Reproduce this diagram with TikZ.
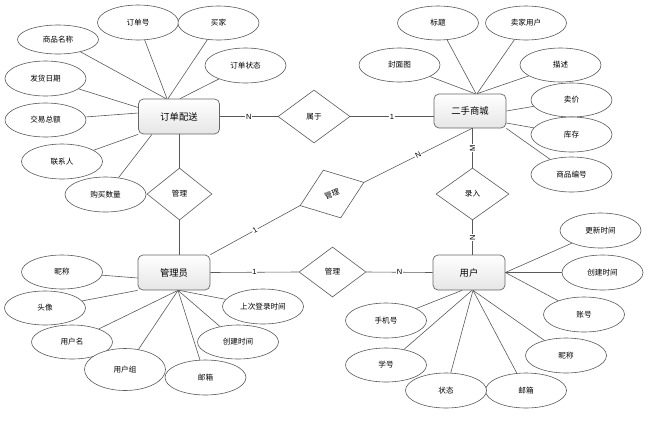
\documentclass[tikz,border=0pt]{standalone}
\usepackage{fontspec}
\newfontfamily\cjk{Noto Sans CJK SC}
\newfontfamily\lat{Liberation Sans}
\usetikzlibrary{shapes.geometric}
\tikzset{
  ent/.style={rectangle, rounded corners=5pt, draw=black!60, line width=0.7pt,
    top color=white, bottom color=black!10, minimum width=72pt, minimum height=35pt,
    inner sep=0pt, font=\cjk\fontsize{9.3}{10}\selectfont},
  attr/.style={ellipse, draw=black!65, line width=0.6pt, fill=white, minimum width=81pt,
    minimum height=35pt, inner sep=0pt, font=\cjk\fontsize{7.6}{8}\selectfont},
  rel/.style={diamond, draw=black!65, line width=0.6pt, fill=white, inner sep=0pt,
    font=\cjk\fontsize{7.6}{8}\selectfont},
  lbl/.style={fill=white, inner sep=0.8pt, font=\lat\fontsize{7.5}{8}\selectfont},
  conn/.style={draw=black!65, line width=0.6pt}
}
\begin{document}
\begin{tikzpicture}[x=1pt,y=-1pt]
\useasboundingbox (0,0) rectangle (653,421);

% entities
\node[ent, minimum width=81pt] (ddps) at (179,116.5) {订单配送};
\node[ent, minimum height=34pt] (esc) at (470,111) {二手商城};
\node[ent] (gly) at (174,272.5) {管理员};
\node[ent] (yh) at (469,272.5) {用户};

% relationships
\node[rel, minimum width=72pt, minimum height=53pt] (sy) at (314,116.5) {属于};
\node[rel, minimum width=65pt, minimum height=52pt] (gla) at (179.5,194) {管理};
\node[rel, minimum width=73pt, minimum height=52pt] (lr) at (472.5,194) {录入};
\node[rel, minimum width=67pt, minimum height=50pt] (glb) at (332.5,272) {管理};
\node[rel, minimum width=68pt, minimum height=51pt, rotate=20] (glc) at (332,194) {管理};

% attributes of 订单配送
\node[attr, minimum height=29pt] (spmc) at (58,39.5) {商品名称};
\node[attr] (ddh) at (138,22.5) {订单号};
\node[attr, minimum height=34pt] (mj) at (218.5,23) {买家};
\node[attr] (ddzt) at (245.5,65.5) {订单状态};
\node[attr] (fhrq) at (45.5,78.5) {发货日期};
\node[attr, minimum height=34pt] (jyze) at (45.5,120) {交易总额};
\node[attr] (lxr) at (62,161.5) {联系人};
\node[attr] (gmsl) at (105.5,194.5) {购买数量};

% attributes of 二手商城
\node[attr, minimum height=34pt] (bt) at (438,23) {标题};
\node[attr, minimum height=34pt] (mjyh) at (526,23) {卖家用户};
\node[attr, minimum height=34pt] (fmt) at (399.5,65) {封面图};
\node[attr, minimum height=34pt] (ms) at (560.5,65) {描述};
\node[attr, minimum height=34pt] (sj) at (571.5,100) {卖价};
\node[attr] (kc) at (571.5,134.5) {库存};
\node[attr] (spbh) at (571.5,174.5) {商品编号};

% attributes of 管理员
\node[attr, minimum height=34pt] (nca) at (62,272) {昵称};
\node[attr, minimum height=34pt] (tx) at (45,308) {头像};
\node[attr, minimum height=34pt] (yhm) at (72,342) {用户名};
\node[attr, minimum height=42pt] (yhz) at (125,369.5) {用户组};
\node[attr] (yxa) at (205.5,377.5) {邮箱};
\node[attr, minimum height=34pt] (cjsja) at (238,342) {创建时间};
\node[attr] (scdl) at (263,306.5) {上次登录时间};

% attributes of 用户
\node[attr] (gxsj) at (600.5,230.5) {更新时间};
\node[attr] (cjsjb) at (602.5,272.5) {创建时间};
\node[attr] (zh) at (584,314.5) {账号};
\node[attr] (ncb) at (566,355.5) {昵称};
\node[attr] (yxb) at (526,390.5) {邮箱};
\node[attr] (zt) at (446,390.5) {状态};
\node[attr, minimum height=34pt] (xh) at (386,365) {学号};
\node[attr] (sjh) at (386,320.5) {手机号};

% relationship connectors
\draw[conn] (ddps.east) -- node[lbl]{N} (sy.west);
\draw[conn] (sy.east) -- node[lbl]{1} (sy.east -| esc.west);
\draw[conn] (gla.north) -- (gla.north |- ddps.south);
\draw[conn] (gla.south) -- (gla.south |- gly.north);
\draw[conn] (lr.north) -- node[lbl, rotate=90]{M} (lr.north |- esc.south);
\draw[conn] (lr.south) -- node[lbl, rotate=90]{N} (lr.south |- yh.north);
\draw[conn] (gly.east) -- node[lbl]{1} (glb.west);
\draw[conn] (glb.east) -- node[lbl]{N} (yh.west);
\draw[conn] (gly.north east) -- node[lbl, sloped]{1} (glc.west);
\draw[conn] (glc.east) -- node[lbl, sloped]{N} ([xshift=2pt]esc.south);

% 订单配送 attributes
\draw[conn] (spmc) -- ([xshift=-13pt]ddps.north);
\draw[conn] (ddh) -- ([xshift=-12pt]ddps.north);
\draw[conn] (mj) -- ([xshift=-11pt]ddps.north);
\draw[conn] (ddzt) -- ([xshift=1pt]ddps.north);
\draw[conn] (fhrq) -- ([yshift=9pt]ddps.west);
\draw[conn] (jyze) -- ([yshift=3.5pt]ddps.west);
\draw[conn] (lxr) -- (ddps.south west);
\draw[conn] (gmsl) -- ([xshift=-27pt]ddps.south);

% 二手商城 attributes
\draw[conn] (bt) -- ([xshift=6pt]esc.north);
\draw[conn] (mjyh) -- ([xshift=7pt]esc.north);
\draw[conn] (fmt) -- ([xshift=5pt]esc.north);
\draw[conn] (ms) -- ([xshift=7pt]esc.north);
\draw[conn] (sj) -- (esc.east);
\draw[conn] (kc) -- ([yshift=-12pt]esc.east);
\draw[conn] (spbh) -- (esc.south east);

% 管理员 attributes
\draw[conn] (nca) -- ([yshift=-5.5pt]gly.west);
\draw[conn] (tx) -- (gly.south west);
\draw[conn] (yhm) -- ([xshift=4pt]gly.south);
\draw[conn] (yhz) -- ([xshift=4pt]gly.south);
\draw[conn] (yxa) -- ([xshift=4pt]gly.south);
\draw[conn] (cjsja) -- ([xshift=4pt]gly.south);
\draw[conn] (scdl) -- ([xshift=5pt]gly.south);

% 用户 attributes
\draw[conn] (gxsj) -- (yh.east);
\draw[conn] (cjsjb) -- (yh.east);
\draw[conn] (zh) -- (yh.east);
\draw[conn] (ncb) -- ([xshift=4pt]yh.south);
\draw[conn] (yxb) -- ([xshift=4pt]yh.south);
\draw[conn] (zt) -- ([xshift=4pt]yh.south);
\draw[conn] (xh) -- ([xshift=3pt]yh.south);
\draw[conn] (sjh) -- ([xshift=-7pt]yh.south);
\end{tikzpicture}
\end{document}
